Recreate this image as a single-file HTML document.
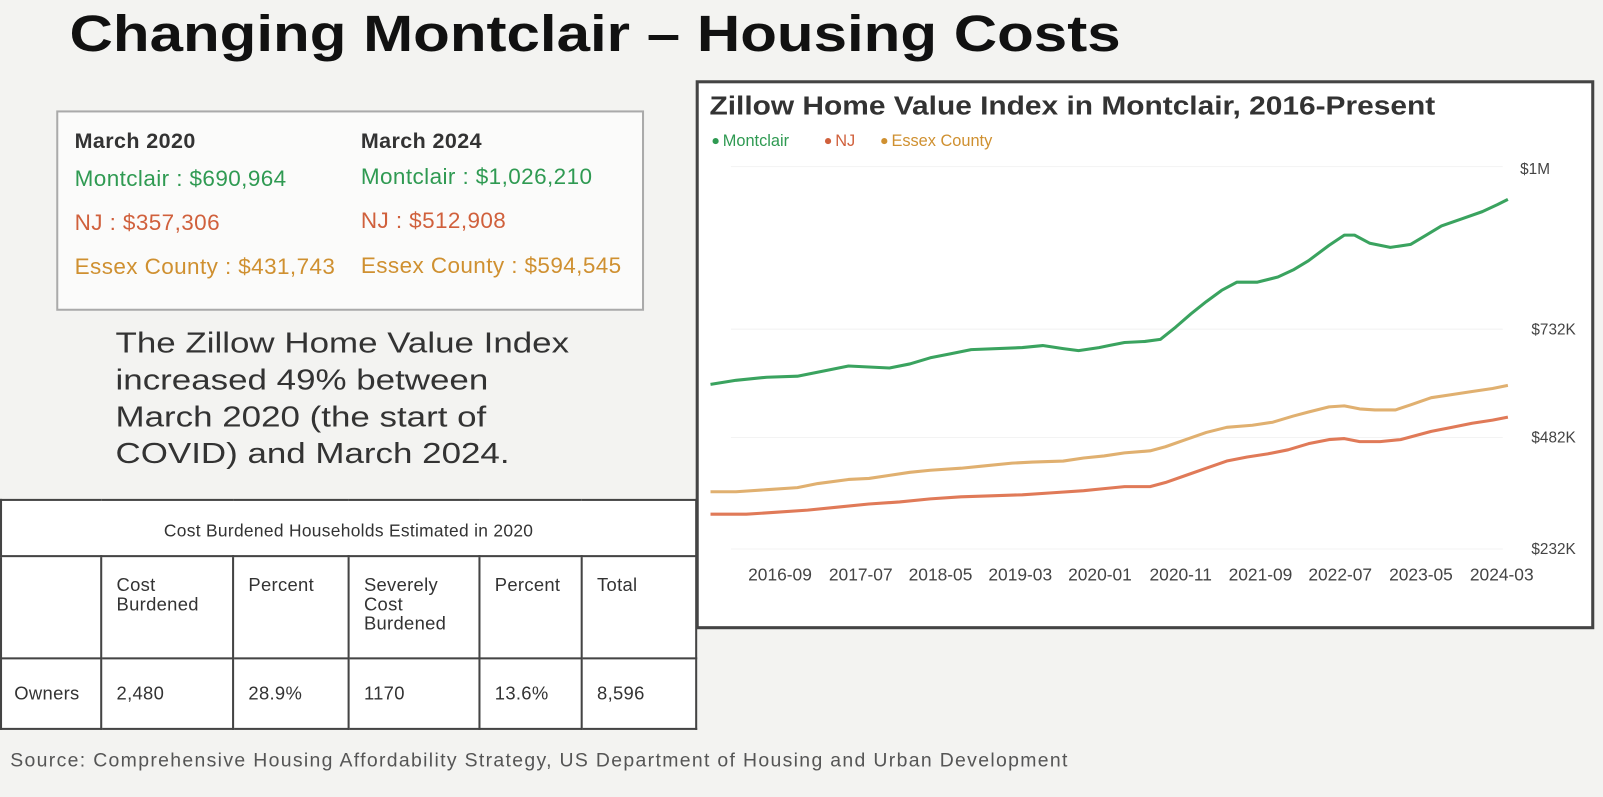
<!DOCTYPE html>
<html><head><style>
body{margin:0;width:1603px;height:780px;overflow:hidden;background:#f3f3f1;font-family:"Liberation Sans",sans-serif;position:relative}
#w{position:absolute;left:0;top:0;width:1568px;height:763px;transform:scale(1.0223);transform-origin:0 0}
.a{position:absolute}
.t{font-weight:bold;font-size:50px;left:68px;top:4px;color:#111;transform:scaleX(1.175);transform-origin:0 0;white-space:nowrap}
.box{left:55px;top:108px;width:571px;height:192px;border:2px solid #aaa;background:#fbfbfa}
.box div{position:absolute;font-size:22px;white-space:nowrap;letter-spacing:0.4px}
.g{color:#2f9a52}.r{color:#d0603c}.o{color:#cf9030}
.body{left:113px;top:318px;font-size:28px;line-height:36px;color:#333;transform:scaleX(1.22);transform-origin:0 0;white-space:nowrap}
table{position:absolute;left:0;top:488px;width:682px;border-collapse:collapse;background:#fff;font-size:18px;color:#333;letter-spacing:0.3px;table-layout:fixed}
td{border:2px solid #444;vertical-align:top;padding:0 14px;box-sizing:border-box}
.h td{height:100px;padding-top:18px;line-height:19px}
.o2 td{height:69px;vertical-align:middle}
</style></head><body><div id="w">
<div class="a t">Changing Montclair – Housing Costs</div>
<div class="a box">
<div style="left:16px;top:17px;font-weight:bold;color:#333;font-size:21px">March 2020</div>
<div style="left:296px;top:17px;font-weight:bold;color:#333;font-size:21px">March 2024</div>
<div class="g" style="left:16px;top:52px">Montclair : $690,964</div>
<div class="g" style="left:296px;top:50px">Montclair : $1,026,210</div>
<div class="r" style="left:16px;top:95px">NJ : $357,306</div>
<div class="r" style="left:296px;top:93px">NJ : $512,908</div>
<div class="o" style="left:16px;top:138px">Essex County : $431,743</div>
<div class="o" style="left:296px;top:137px">Essex County : $594,545</div>
</div>
<div class="a body">The Zillow Home Value Index<br>increased 49% between<br>March 2020 (the start of<br>COVID) and March 2024.</div>
<table>
<colgroup><col style="width:98px"><col style="width:129px"><col style="width:113px"><col style="width:128px"><col style="width:100px"><col></colgroup>
<tr><td colspan="6" style="text-align:center;height:55px;vertical-align:middle;font-size:17px;padding-top:6px">Cost Burdened Households Estimated in 2020</td></tr>
<tr class="h"><td></td><td>Cost<br>Burdened</td><td>Percent</td><td>Severely<br>Cost<br>Burdened</td><td>Percent</td><td>Total</td></tr>
<tr class="o2"><td style="padding:0 12px">Owners</td><td>2,480</td><td>28.9%</td><td>1170</td><td>13.6%</td><td>8,596</td></tr>
</table>
<div class="a" style="left:10px;top:734px;font-size:19px;color:#555;letter-spacing:1.3px;white-space:nowrap">Source: Comprehensive Housing Affordability Strategy, US Department of Housing and Urban Development</div>
<svg class="a" style="left:0;top:0" width="1603" height="780">
<rect x="682" y="80" width="876" height="534" fill="#fff" stroke="#444" stroke-width="3"/>
<text x="694" y="112" font-size="25" font-weight="bold" fill="#333" font-family="Liberation Sans" transform="translate(694 0) scale(1.17 1) translate(-694 0)">Zillow Home Value Index in Montclair, 2016-Present</text>
<g font-size="16" font-family="Liberation Sans">
<circle cx="700" cy="138" r="3" fill="#2f9a52"/><text x="707" y="143" fill="#2f9a52">Montclair</text>
<circle cx="810" cy="138" r="3" fill="#d0603c"/><text x="817" y="143" fill="#d0603c">NJ</text>
<circle cx="865" cy="138" r="3" fill="#cf9030"/><text x="872" y="143" fill="#cf9030">Essex County</text>
</g>
<g stroke="#f3f3f3" stroke-width="1"><line x1="715" y1="163" x2="1470" y2="163"/><line x1="715" y1="322" x2="1470" y2="322"/><line x1="715" y1="428" x2="1470" y2="428"/><line x1="715" y1="537" x2="1470" y2="537"/></g>
<g font-size="15" fill="#444" font-family="Liberation Sans">
<text x="1487" y="170">$1M</text><text x="1498" y="327">$732K</text><text x="1498" y="433">$482K</text><text x="1498" y="542">$232K</text>
</g>
<g font-size="17" fill="#444" font-family="Liberation Sans" text-anchor="middle">
<text x="763" y="568">2016-09</text><text x="842" y="568">2017-07</text><text x="920" y="568">2018-05</text><text x="998" y="568">2019-03</text><text x="1076" y="568">2020-01</text><text x="1155" y="568">2020-11</text><text x="1233" y="568">2021-09</text><text x="1311" y="568">2022-07</text><text x="1390" y="568">2023-05</text><text x="1469" y="568">2024-03</text>
</g>
<g fill="none" stroke-width="3" stroke-linejoin="round">
<polyline stroke="#3aa35f" points="695,376 720,372 750,369 780,368 810,362 830,358 850,359 870,360 890,356 910,350 930,346 950,342 1000,340 1020,338 1040,341 1055,343 1075,340 1085,338 1100,335 1120,334 1135,332 1150,320 1165,307 1180,295 1195,284 1210,276 1230,276 1250,271 1265,264 1280,255 1300,240 1315,230 1325,230 1340,238 1360,242 1380,239 1395,230 1410,221 1430,214 1450,207 1465,200 1475,195"/>
<polyline stroke="#e0b070" points="695,481 720,481 750,479 780,477 800,473 830,469 850,468 870,465 890,462 910,460 940,458 960,456 990,453 1010,452 1040,451 1060,448 1080,446 1100,443 1125,441 1140,437 1160,430 1180,423 1200,418 1225,416 1245,413 1265,407 1280,403 1300,398 1315,397 1330,400 1345,401 1365,401 1380,396 1400,389 1420,386 1440,383 1460,380 1475,377"/>
<polyline stroke="#e07a58" points="695,503 730,503 760,501 790,499 820,496 850,493 880,491 910,488 940,486 970,485 1000,484 1030,482 1060,480 1080,478 1100,476 1125,476 1140,472 1160,465 1180,458 1200,451 1220,447 1240,444 1260,440 1280,434 1300,430 1315,429 1330,432 1350,432 1370,430 1385,426 1400,422 1420,418 1440,414 1460,411 1475,408"/>
</g>
</svg>
</div></body></html>
